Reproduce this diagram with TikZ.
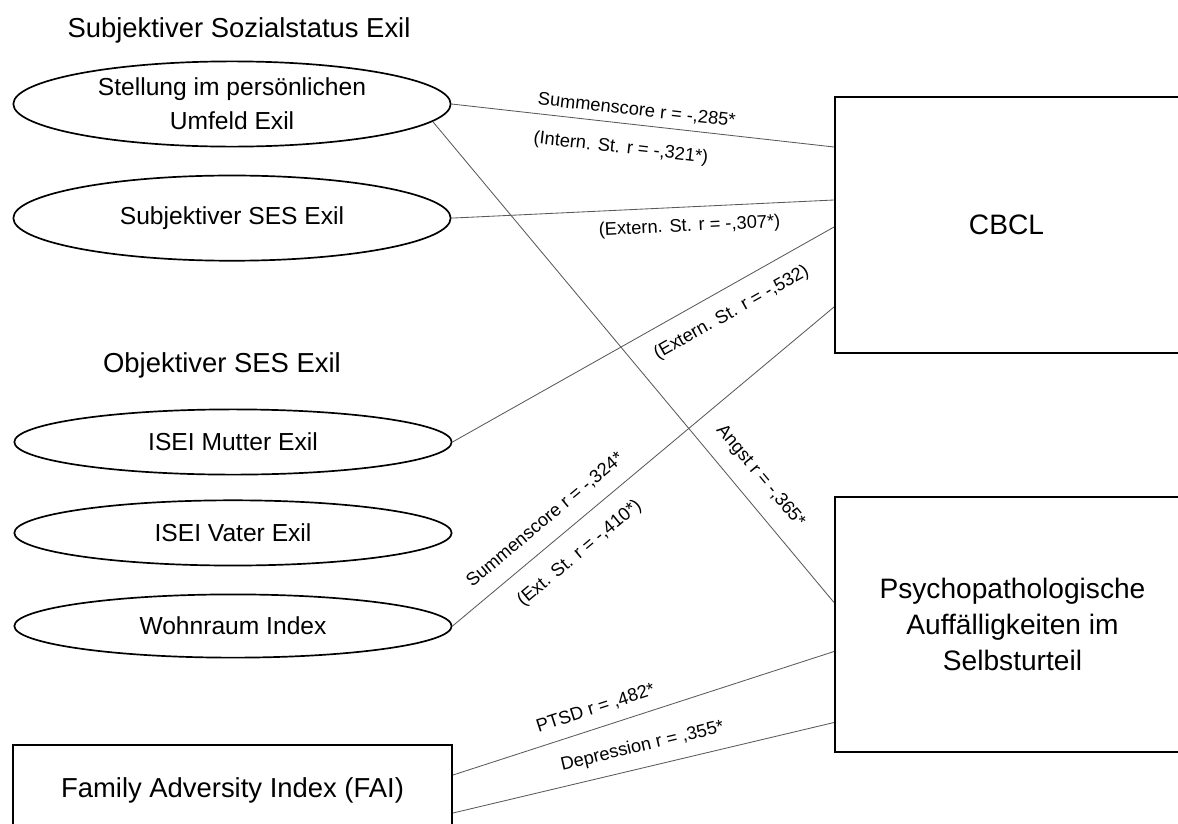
\documentclass[tikz,border=0pt]{standalone}
\usepackage{fontspec}
\setmainfont{Liberation Sans}
\usetikzlibrary{shapes.geometric,positioning,calc}

\begin{document}
\begin{tikzpicture}[x=0.025cm,y=-0.025cm,
		latent/.style={ellipse,draw,line width=1.2pt,minimum width=10.93cm,inner sep=0pt,align=center,font=\fontsize{17.5}{24}\selectfont},
		outcome/.style={rectangle,draw,line width=1.2pt,minimum width=8.88cm,minimum height=6.4cm,inner sep=0pt,align=center,font=\fontsize{20}{25.5}\selectfont},
		heading/.style={font=\fontsize{19.5}{23}\selectfont},
		conn/.style={draw=black!65,line width=0.6pt},
		coef/.style={sloped,inner sep=0pt,font=\fontsize{13}{15}\selectfont}]
		\clip (0,0) rectangle (1178,823);
		
		\node[heading] (subj) at (239,30) {Subjektiver Sozialstatus Exil};
		\node[latent,minimum height=2.13cm] (e1) at (232,104) {Stellung im persönlichen\\Umfeld Exil};
		\node[latent,minimum height=2.13cm] (e2) [below=0.68cm of e1] {Subjektiver SES Exil};
		
		\node[heading] (obj) at (222,365) {Objektiver SES Exil};
		\node[latent,minimum height=1.63cm] (e3) at (233,442) {ISEI Mutter Exil};
		\node[latent,minimum height=1.63cm] (e4) [below=0.6cm of e3] {ISEI Vater Exil};
		\node[latent,minimum height=1.58cm] (e5) [below=0.68cm of e4] {Wohnraum Index};
		
		\node[rectangle,draw,line width=1.2pt,minimum width=10.98cm,minimum height=2.25cm,font=\fontsize{19.5}{23}\selectfont] (fai) at (232.5,790) {Family Adversity Index (FAI)};
		
		\node[outcome] (cbcl) at (1012.5,225) {CBCL\hspace*{0.3cm}};
		\node[outcome,minimum height=6.38cm] (psych) at (1012.5,624.5) {Psychopathologische\\Auffälligkeiten im\\Selbsturteil};
		
		\path[conn]	(e1.east)	edge	node[coef,above=4.5pt,pos=0.48] {Summenscore r = -,285*}
		node[coef,below=11.5pt,pos=0.45] {(Intern. St. r = -,321*)} ($(cbcl.west)+(0,-78)$)
		(e1.-5)	edge	node[coef,above=11pt,pos=0.77] {Angst r = -,365*} ($(psych.west)+(0,-22)$)
		(e2.east)	edge	node[coef,below=7.7pt,pos=0.62] {(Extern. St. r = -,307*)} ($(cbcl.west)+(0,-25)$)
		(e3.east)	edge	node[coef,below=11pt,pos=0.7] {(Extern. St. r = -,532)} ($(cbcl.west)+(0,2)$)
		(e5.east)	edge	node[coef,above=10pt,pos=0.28] {Summenscore r = -,324*}
		node[coef,below=12pt,pos=0.29] {(Ext. St. r = -,410*)} ($(cbcl.west)+(0,82)$)
		($(fai.east)+(0,-15)$)	edge	node[coef,above=8pt,pos=0.39] {PTSD r = ,482*} ($(psych.west)+(0,27)$)
		($(fai.east)+(0,23)$)	edge	node[coef,above=8.5pt,pos=0.51] {Depression r = ,355*} ($(psych.west)+(0,98)$);
	\end{tikzpicture}
\end{document}
